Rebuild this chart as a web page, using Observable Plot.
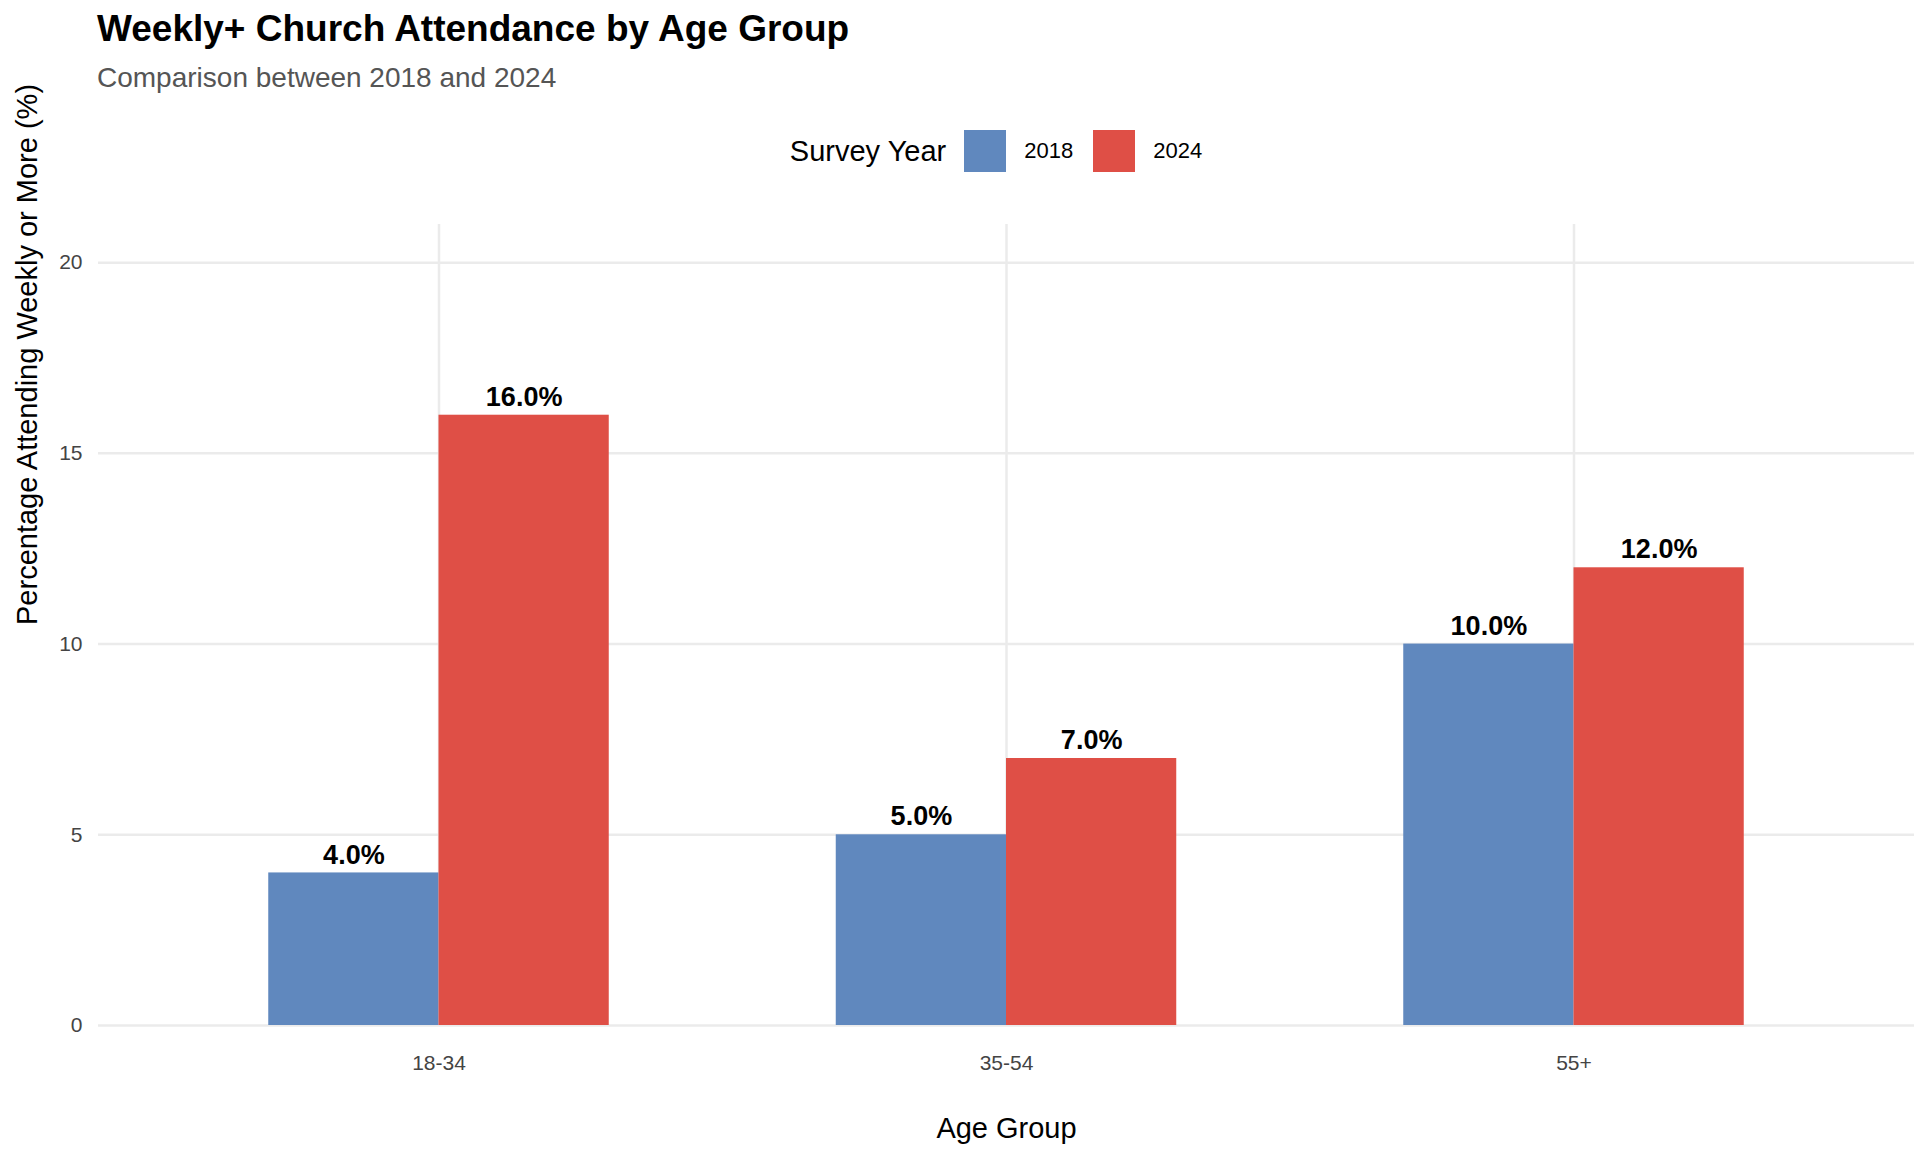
<!DOCTYPE html>
<html><head><meta charset="utf-8">
<script src="https://cdn.jsdelivr.net/npm/d3@7"></script>
<script src="https://cdn.jsdelivr.net/npm/@observablehq/plot@0.6"></script>
<style>
body{margin:0;background:#fff;font-family:"Liberation Sans",Arial,sans-serif;width:1920px;height:1152px;position:relative;overflow:hidden}
#title{position:absolute;left:97px;top:8px;font-size:37px;font-weight:bold;color:#000}
#sub{position:absolute;left:97px;top:62px;font-size:28px;color:#555}
#legend{position:absolute;left:98px;width:1816px;top:130px;display:flex;justify-content:center;align-items:center;font-size:22px;color:#000}
#legend .t{font-size:29px;margin-right:18px}
#legend .sw{width:42px;height:42px;display:inline-block;margin-right:18px}
#legend .lb{margin-right:20px}
#chart{position:absolute;left:0;top:0}
</style></head><body>
<div id="title">Weekly+ Church Attendance by Age Group</div>
<div id="sub">Comparison between 2018 and 2024</div>
<div id="legend"><span class="t">Survey Year</span><span class="sw" style="background:#6088BE"></span><span class="lb">2018</span><span class="sw" style="background:#DF4F46"></span><span class="lb">2024</span></div>
<div id="chart"></div>
<script>
const ageGroups = ["18-34","35-54","55+"];
const years = ["2018","2024"];
const values2018 = [4,5,10];
const values2024 = [16,7,12];
const colors = ["#6088BE","#DF4F46"];

const rows = [];
ageGroups.forEach((g,i)=>{
  rows.push({g, year:"2018", v:values2018[i], x1:i+1-0.3, x2:i+1});
  rows.push({g, year:"2024", v:values2024[i], x1:i+1, x2:i+1.3});
});

const plot = Plot.plot({
  width:1920, height:1152,
  marginTop:224, marginBottom:127, marginLeft:98, marginRight:6,
  style:{fontFamily:"Liberation Sans, Arial, sans-serif", background:"transparent"},
  x:{domain:[0.4,3.6], ticks:[1,2,3], tickFormat:d=>ageGroups[d-1]},
  y:{domain:[0,21]},
  color:{domain:years, range:colors},
  marks:[
    Plot.ruleX([1,2,3],{stroke:"#ebebeb",strokeWidth:2.5}),
    Plot.ruleY([0,5,10,15,20],{stroke:"#ebebeb",strokeWidth:2.5}),
    Plot.rectY(rows,{x1:"x1",x2:"x2",y1:0,y2:"v",fill:"year"}),
    Plot.text(rows,{x:d=>(d.x1+d.x2)/2,y:"v",text:d=>d.v.toFixed(1)+"%",dy:-18,fontSize:27,fontWeight:"bold",fill:"#000"}),
    Plot.axisX({ticks:[1,2,3],tickFormat:d=>ageGroups[d-1],tickSize:0,tickPadding:30,fontSize:21,fill:"#444",label:null}),
    Plot.axisY({ticks:[0,5,10,15,20],tickSize:0,tickPadding:16,fontSize:21,fill:"#444",label:null}),
    Plot.text(["Age Group"],{frameAnchor:"bottom",dy:112,fontSize:29,fill:"#000"}),
    Plot.text(["Percentage Attending Weekly or More (%)"],{frameAnchor:"left",dx:-71,rotate:-90,fontSize:29,fill:"#000"})
  ]
});
document.getElementById("chart").appendChild(plot);
</script>
</body></html>
